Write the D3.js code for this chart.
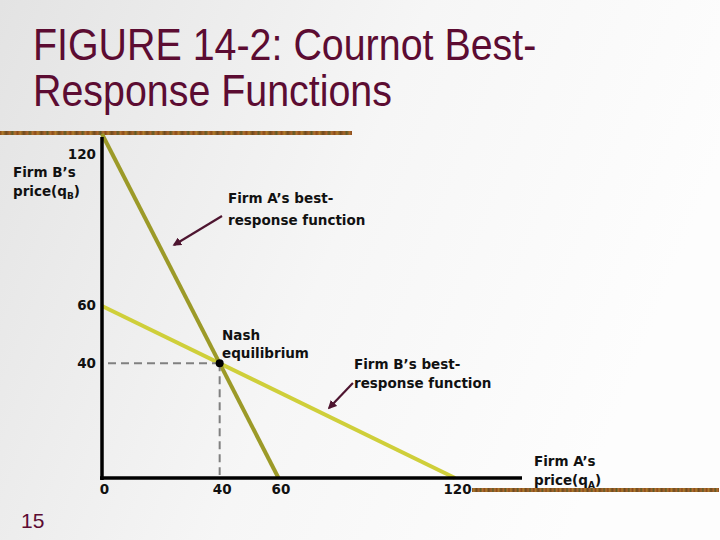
<!DOCTYPE html>
<html><head><meta charset="utf-8">
<script src="https://cdn.jsdelivr.net/npm/d3@7"></script>
<style>html,body{margin:0;padding:0;background:#fff;}svg{display:block;}</style>
</head><body>
<script>
// ---- data ----
const xTickValues = [0, 40, 60, 120];          // Firm A's quantity ticks
const yTickValues = [40, 60, 120];             // Firm B's quantity ticks
const firmAResponseQA = [0, 60];               // Firm A's best-response: qB = 120 - 2 qA
const firmAResponseQB = [120, 0];
const firmBResponseQA = [0, 120];              // Firm B's best-response: qB = 60 - qA/2
const firmBResponseQB = [60, 0];
const nashQA = 40, nashQB = 40;
const arrowA = [[40.8, 91.4], [24.5, 81.3]];    // annotation arrow (tail -> head), data units
const arrowB = [[85.3, 33.1], [77.2, 24.4]];

const W = 720, H = 540;
const svg = d3.select("body").append("svg").attr("width", W).attr("height", H);
const defs = svg.append("defs");

const bg = defs.append("linearGradient").attr("id", "bg").attr("x1", "0").attr("y1", "0").attr("x2", "1").attr("y2", "0.3");
bg.append("stop").attr("offset", "0").attr("stop-color", "#e3e3e3");
bg.append("stop").attr("offset", "0.55").attr("stop-color", "#f6f6f6");
bg.append("stop").attr("offset", "1").attr("stop-color", "#fdfdfd");
svg.append("rect").attr("width", W).attr("height", H).attr("fill", "url(#bg)");

const bar = defs.append("linearGradient").attr("id", "bar").attr("x1", "0").attr("x2", "0.05").attr("spreadMethod", "repeat");
[["0", "#8a4a1c"], ["0.15", "#b07a2a"], ["0.35", "#6e4a20"], ["0.55", "#a8642a"], ["0.7", "#5e5a28"], ["0.85", "#b0702e"], ["1", "#8a4a1c"]]
  .forEach(([o, c]) => bar.append("stop").attr("offset", o).attr("stop-color", c));

const maroon = "#5c0c32";
const titleT = "translate(33,0) scale(0.895,1) translate(-33,0)";
svg.append("text").attr("x", 33).attr("y", 60).attr("fill", maroon)
  .attr("font-family", "Liberation Sans, Arial, sans-serif").attr("font-size", 44)
  .attr("transform", titleT).text("FIGURE 14-2: Cournot Best-");
svg.append("text").attr("x", 33).attr("y", 106).attr("fill", maroon)
  .attr("font-family", "Liberation Sans, Arial, sans-serif").attr("font-size", 44)
  .attr("transform", titleT).text("Response Functions");

svg.append("rect").attr("x", 0).attr("y", 131).attr("width", 352).attr("height", 4).attr("fill", "url(#bar)");
svg.append("rect").attr("x", 472).attr("y", 488).attr("width", 247).attr("height", 4).attr("fill", "url(#bar)");

svg.append("text").attr("x", 21).attr("y", 528).attr("fill", maroon)
  .attr("font-family", "Liberation Sans, Arial, sans-serif").attr("font-size", 21).text("15");

// ---- scales ----
const x = d3.scaleLinear().domain([0, 120]).range([102, 455]);
const y = d3.scaleLinear().domain([0, 120]).range([478, 134]);

const fontLbl = "DejaVu Sans, Verdana, sans-serif";

// response lines
const line = d3.line().x(d => x(d[0])).y(d => y(d[1]));
svg.append("path").datum(firmBResponseQA.map((a, i) => [a, firmBResponseQB[i]]))
  .attr("d", line).attr("stroke", "#cfcf3a").attr("stroke-width", 4).attr("fill", "none");
svg.append("path").datum(firmAResponseQA.map((a, i) => [a, firmAResponseQB[i]]))
  .attr("d", line).attr("stroke", "#9c9a28").attr("stroke-width", 4).attr("fill", "none");

// dashed guides
svg.append("path").attr("d", `M${x(0) + 6},${y(nashQB)}H${x(nashQA)}`)
  .attr("stroke", "#808080").attr("stroke-width", 2).attr("stroke-dasharray", "8,5").attr("fill", "none");
svg.append("path").attr("d", `M${x(nashQA)},${y(nashQB)}V${y(0) - 3}`)
  .attr("stroke", "#808080").attr("stroke-width", 2).attr("stroke-dasharray", "8,5").attr("fill", "none");

// axes lines
svg.append("line").attr("x1", x(0)).attr("x2", x(0)).attr("y1", 137).attr("y2", y(0) + 2)
  .attr("stroke", "#000").attr("stroke-width", 3.5);
svg.append("line").attr("x1", x(0) - 2).attr("x2", 522).attr("y1", y(0)).attr("y2", y(0))
  .attr("stroke", "#000").attr("stroke-width", 3.5);

// axes ticks via d3 axes
const xAxis = svg.append("g").attr("transform", `translate(0,${y(0)})`)
  .call(d3.axisBottom(x).tickValues(xTickValues).tickSize(0).tickPadding(6).tickFormat(d3.format("d")));
xAxis.select(".domain").remove();
xAxis.selectAll("text").attr("font-family", fontLbl).attr("font-size", 13.5).attr("font-weight", "bold").attr("fill", "#111")
  .attr("dx", 2);

const yAxis = svg.append("g").attr("transform", `translate(${x(0)},0)`)
  .call(d3.axisLeft(y).tickValues(yTickValues).tickSize(0).tickPadding(6).tickFormat(d3.format("d")));
yAxis.select(".domain").remove();
yAxis.selectAll(".tick").attr("transform", d => `translate(0,${d === 120 ? y(d) + 21 : y(d)})`);
yAxis.selectAll("text").attr("font-family", fontLbl).attr("font-size", 13.5).attr("font-weight", "bold").attr("fill", "#111");

// Nash point
svg.append("circle").attr("cx", x(nashQA)).attr("cy", y(nashQB)).attr("r", 4).attr("fill", "#000");

// arrows
defs.append("marker").attr("id", "ah").attr("viewBox", "0 0 10 10").attr("refX", 8).attr("refY", 5)
  .attr("markerWidth", 4).attr("markerHeight", 4).attr("orient", "auto")
  .append("path").attr("d", "M0,0L10,5L0,10Z").attr("fill", "#4e1530");
[arrowA, arrowB].forEach(a => {
  svg.append("line").attr("x1", x(a[0][0])).attr("y1", y(a[0][1])).attr("x2", x(a[1][0])).attr("y2", y(a[1][1]))
    .attr("stroke", "#4e1530").attr("stroke-width", 2.2).attr("marker-end", "url(#ah)");
});

// text labels
function label(lines, x0, y0, lh) {
  const t = svg.append("text").attr("font-family", fontLbl).attr("font-size", 13.5).attr("font-weight", "bold").attr("fill", "#111");
  lines.forEach((l, i) => {
    const ts = t.append("tspan").attr("x", x0).attr("y", y0 + i * lh);
    if (Array.isArray(l)) {
      ts.text(l[0]);
      t.append("tspan").attr("font-size", 9).attr("dy", 3).text(l[1]);
      t.append("tspan").attr("dy", -3).text(l[2]);
    } else ts.text(l);
  });
}
label(["Firm B’s", ["price(q", "B", ")"]], 13, 177, 19);
label(["Firm A’s best-", "response function"], 228, 203, 22);
label(["Nash", "equilibrium"], 222, 340, 18);
label(["Firm B’s best-", "response function"], 354, 369, 19);
label(["Firm A’s", ["price(q", "A", ")"]], 534, 466, 19);
</script>
</body></html>
